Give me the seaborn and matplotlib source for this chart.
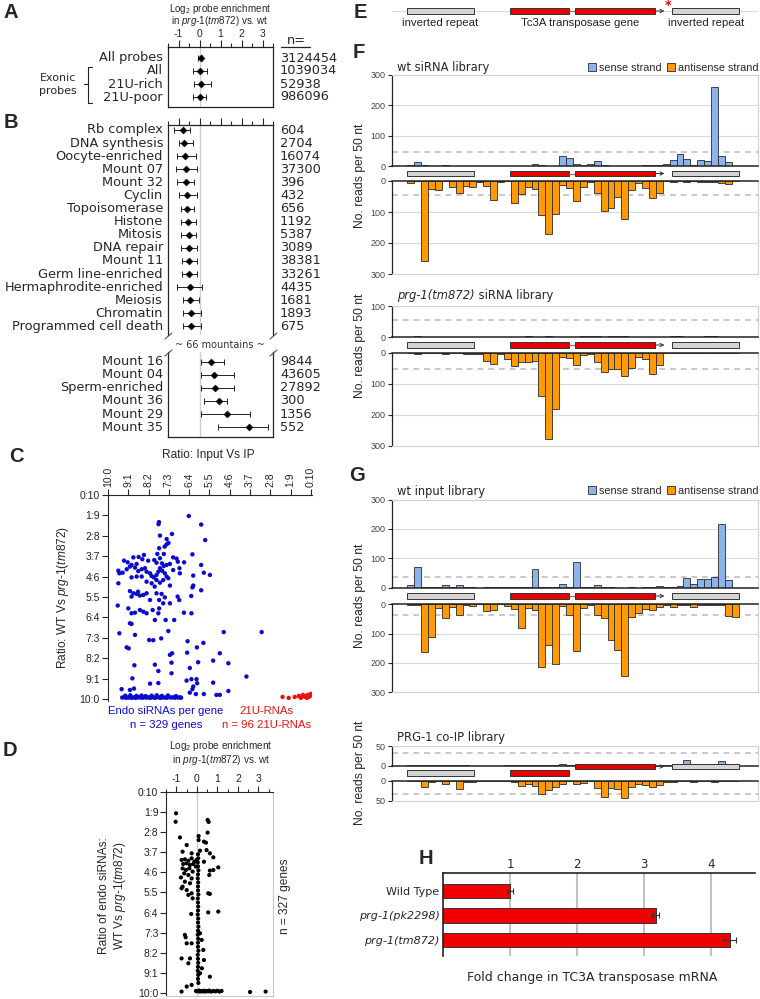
import numpy as np
import matplotlib
matplotlib.use("Agg")
import matplotlib.pyplot as plt
import seaborn as sns
from matplotlib.patches import Rectangle, Patch
from matplotlib.lines import Line2D
from matplotlib.ticker import MultipleLocator

sns.set_style("ticks")
plt.rcParams['font.family'] = ['DejaVu Sans']
plt.rcParams['mathtext.fontset'] = 'custom'
plt.rcParams['mathtext.rm'] = 'Liberation Sans'
plt.rcParams['mathtext.it'] = 'Liberation Sans:italic'
ARIAL = 'Liberation Sans'

# ---- A / B : log2 probe enrichment ----
a_labels = ["All probes", "All", "21U-rich", "21U-poor"]
a_mean = [0.05, 0.0, 0.05, 0.0]
a_lo = [-0.08, -0.33, -0.24, -0.33]
a_hi = [0.12, 0.38, 0.57, 0.33]
a_n = ["3124454", "1039034", "52938", "986096"]

b_labels = ["Rb complex", "DNA synthesis", "Oocyte-enriched", "Mount 07", "Mount 32",
            "Cyclin", "Topoisomerase", "Histone", "Mitosis", "DNA repair", "Mount 11",
            "Germ line-enriched", "Hermaphrodite-enriched", "Meiosis", "Chromatin",
            "Programmed cell death"]
b_mean = [-0.80, -0.74, -0.67, -0.63, -0.62, -0.59, -0.59, -0.56, -0.52, -0.51, -0.50,
          -0.48, -0.46, -0.43, -0.40, -0.40]
b_lo = [-1.20, -1.00, -1.06, -1.10, -1.06, -1.00, -0.86, -0.86, -0.86, -0.86, -0.83,
        -0.83, -1.06, -0.79, -0.78, -0.78]
b_hi = [-0.43, -0.33, -0.19, -0.10, -0.24, -0.14, -0.27, -0.19, -0.19, -0.11, -0.14,
        -0.14, 0.13, -0.03, 0.08, 0.08]
b_n = ["604", "2704", "16074", "37300", "396", "432", "656", "1192", "5387", "3089",
       "38381", "33261", "4435", "1681", "1893", "675"]

b2_labels = ["Mount 16", "Mount 04", "Sperm-enriched", "Mount 36", "Mount 29", "Mount 35"]
b2_mean = [0.57, 0.68, 0.73, 0.95, 1.29, 2.35]
b2_lo = [0.05, 0.05, 0.05, 0.21, 0.05, 0.87]
b2_hi = [1.19, 1.63, 1.63, 1.32, 2.40, 3.27]
b2_n = ["9844", "43605", "27892", "300", "1356", "552"]

# ---- C : ratio scatter (x: 0 = 10:0 ... 10 = 0:10, y: 0 = 0:10 ... 10 = 10:0) ----
c_endo_x = [3.98, 2.51, 2.49, 4.59, 2.56, 3.15, 4.79, 2.89, 2.98, 2.89, 2.79, 2.52, 2.43, 2.75,
            4.16, 1.77, 1.51, 1.25, 0.79, 0.97, 1.16, 1.41, 1.69, 1.98, 2.28, 2.39, 2.56, 2.66,
            2.75, 2.89, 3.05, 3.21, 3.38, 3.44, 3.75, 3.52, 3.21, 3.54, 4.59, 4.72, 5.02, 4.20,
            0.51, 0.56, 0.51, 0.72, 0.92, 1.08, 1.33, 1.49, 1.66, 1.82, 1.90, 2.07, 2.15, 2.26,
            2.39, 2.48, 2.56, 2.67, 2.80, 2.89, 2.39, 2.56, 2.72, 2.97, 2.15, 1.90, 1.66, 1.41,
            1.16, 4.20, 4.16, 3.05, 2.30, 1.08, 1.25, 1.41, 1.57, 1.74, 1.90, 1.16, 1.48, 2.39,
            2.64, 2.80, 3.43, 3.51, 4.10, 4.59, 2.52, 2.72, 2.07, 0.48, 1.00, 1.33, 1.57, 1.90,
            2.20, 2.52, 3.05, 1.16, 1.74, 2.48, 3.74, 4.11, 1.08, 1.16, 2.84, 2.31, 3.26, 0.56,
            1.33, 2.03, 2.23, 2.62, 2.97, 3.92, 4.38, 4.70, 5.70, 7.57,
            0.92, 1.02, 3.05, 3.16, 1.30, 2.31, 3.13, 3.90, 4.44, 5.18, 5.51, 5.93, 2.48, 3.13,
            4.03, 1.20, 6.82, 3.87, 4.11, 4.36, 4.39, 5.18, 4.20, 4.16, 0.67, 1.08, 1.28, 2.07,
            2.48, 4.03, 4.33, 4.72, 5.34, 5.51, 5.93,
            0.70, 0.80, 0.90, 1.00, 1.05, 1.15, 1.20, 1.30, 1.35, 1.45, 1.50, 1.60, 1.70, 1.80,
            1.90, 1.95, 2.05, 2.10, 2.20, 2.30, 2.35, 2.45, 2.55, 2.60, 2.70, 2.80, 2.90, 3.00,
            3.10, 3.20, 3.30, 3.45, 3.55, 3.60,
            0.85, 1.10, 1.40, 1.65, 1.85, 2.15, 2.40, 2.65, 2.95, 3.35]
c_endo_y = [1.03, 1.33, 1.43, 1.45, 1.99, 1.91, 2.21, 2.16, 2.35, 2.42, 2.53, 2.61, 2.89, 2.89,
            2.91, 2.94, 3.04, 3.06, 3.22, 3.30, 3.43, 3.38, 3.15, 3.22, 3.19, 3.32, 3.10, 3.35,
            3.48, 3.43, 3.38, 3.06, 3.12, 3.27, 3.30, 3.59, 3.68, 3.84, 3.43, 3.81, 3.92, 3.95,
            3.71, 3.84, 4.33, 3.81, 3.64, 3.51, 3.56, 3.73, 3.64, 3.59, 3.76, 3.84, 3.97, 4.04,
            3.92, 3.76, 3.59, 3.71, 3.84, 4.00, 4.17, 4.30, 4.17, 4.08, 4.33, 4.25, 4.00, 4.00,
            4.04, 4.44, 4.53, 4.44, 4.49, 4.71, 4.82, 4.85, 4.93, 4.90, 4.82, 4.98, 4.74, 4.82,
            4.85, 5.02, 4.98, 5.15, 4.95, 4.67, 5.15, 5.31, 5.15, 5.42, 5.56, 5.77, 5.64, 5.80,
            5.64, 5.56, 5.31, 5.80, 5.72, 5.80, 5.77, 5.80, 6.29, 6.32, 6.13, 6.13, 6.13, 6.78,
            6.86, 7.11, 7.12, 7.03, 6.67, 7.17, 7.47, 7.25, 6.72, 6.72,
            7.47, 7.52, 7.84, 7.76, 8.35, 8.32, 8.22, 7.73, 8.20, 8.12, 7.76, 8.25, 8.63, 8.74,
            8.48, 8.99, 8.90, 9.10, 9.03, 9.03, 9.23, 9.20, 9.39, 9.52, 9.52, 9.56, 9.49, 9.25,
            9.22, 9.69, 9.76, 9.76, 9.80, 9.80, 9.61,
            9.93, 9.92, 9.94, 9.93, 9.91, 9.94, 9.93, 9.92, 9.94, 9.93, 9.91, 9.93, 9.94, 9.92,
            9.93, 9.91, 9.94, 9.93, 9.92, 9.94, 9.93, 9.91, 9.93, 9.94, 9.92, 9.93, 9.94, 9.91,
            9.93, 9.92, 9.94, 9.93, 9.92, 9.94,
            9.84, 9.82, 9.85, 9.83, 9.86, 9.84, 9.82, 9.85, 9.83, 9.86]
c_21u_x = [8.60, 8.90, 9.20, 9.40, 9.50, 9.60, 9.70, 9.75, 9.80, 9.85, 9.90, 9.95, 10.0]
c_21u_y = [9.90, 9.95, 9.90, 9.85, 9.95, 9.80, 9.90, 9.85, 9.95, 9.80, 9.90, 9.85, 9.75]

# ---- D : log2 enrichment vs endo siRNA ratio ----
d_x = [-1.02, -1.04, -0.83, 0.52, 0.57, 0.52, 0.08, 0.08, 0.34, 0.44, -0.50, -0.70, -0.26,
       0.15, 0.47, 0.63, 0.80, 1.04, 0.80, 0.63, 0.60, 0.34,
       -0.75, -0.59, -0.42, -0.26, -0.13, -0.02, -0.67, -0.50, -0.34, -0.18, -0.70, -0.54,
       -0.37, -0.21, -0.05, -0.62, -0.42, -0.78, -0.26, -0.59, -0.34, -0.70, -0.50, -0.75,
       -0.26, -0.21, -0.42, 0.55, 0.63, -0.28, 0.55, 1.04, -0.59, -0.55, -0.50, -0.26, -0.75,
       -0.34, -0.42, 0.15, 0.23, 0.31, 0.34, 0.24, 0.15, 0.63, -0.75, -0.50, -0.26, 2.59, 3.35,
       0.05, 0.06, 0.04, 0.05, 0.07, 0.05, 0.04, 0.06, 0.05, 0.05, 0.07, 0.04, 0.05, 0.06,
       0.05, 0.04, 0.06, 0.05, 0.07, 0.05, 0.04, 0.06, 0.05, 0.05, 0.07, 0.04, 0.05, 0.06,
       0.05, 0.04, 0.06, 0.05, 0.07,
       -0.05, 0.02, 0.10, 0.15, 0.20, 0.28, 0.35, 0.40, 0.48, 0.55, 0.60, 0.70, 0.80, 0.90,
       1.00, 1.10, 1.20]
d_y = [1.06, 1.48, 2.26, 1.39, 1.49, 2.02, 2.19, 2.39, 2.47, 2.52, 2.64, 2.97, 3.05,
       2.92, 2.89, 3.05, 3.25, 3.75, 3.88, 3.91, 4.13, 3.47,
       3.38, 3.35, 3.42, 3.30, 3.47, 3.38, 3.58, 3.55, 3.63, 3.58, 3.80, 3.88,
       3.80, 3.96, 3.71, 4.05, 4.13, 4.25, 4.30, 4.46, 4.54, 4.71, 4.88, 4.79,
       5.04, 5.29, 5.12, 5.04, 5.07, 6.07, 5.99, 5.95, 7.11, 7.23, 7.53, 7.53, 8.28,
       8.28, 8.52, 7.03, 7.36, 7.86, 8.36, 8.77, 9.02, 9.19, 9.93, 9.68, 9.60, 9.95, 9.93,
       3.10, 3.30, 3.50, 3.70, 3.90, 4.10, 4.30, 4.50, 4.70, 4.90, 5.10, 5.30, 5.50, 5.70,
       5.90, 6.10, 6.30, 6.50, 6.70, 6.90, 7.10, 7.30, 7.50, 7.70, 7.90, 8.10, 8.30, 8.50,
       8.70, 8.90, 9.10, 9.30, 9.50,
       9.90, 9.92, 9.88, 9.93, 9.90, 9.92, 9.89, 9.93, 9.90, 9.92, 9.88, 9.93, 9.90, 9.92,
       9.89, 9.93, 9.90]

# ---- F / G : reads per 50 nt bin (48 bins along Tc3) ----
bins = list(range(48))
wt_sirna_sense = [4, 12, 2, 1, 0, 2, 1, 0, 1, 1, 1, 1, 1, 0, 1, 1, 0, 1, 5, 2,
                  1, 1, 33, 28, 5, 4, 8, 15, 2, 1, 1, 0, 1, 1, 3, 2, 3, 5, 20, 40,
                  22, 3, 20, 18, 262, 33, 12, 0]
wt_sirna_anti = [8, 1, 258, 25, 28, 1, 20, 38, 15, 20, 2, 15, 60, 2, 1, 72, 42, 20, 25, 110,
                 172, 105, 12, 22, 66, 18, 2, 38, 98, 88, 52, 122, 30, 8, 22, 55, 38, 1, 2, 1,
                 3, 1, 2, 3, 2, 5, 10, 0]
prg_sirna_sense = [1, 2, 1, 1, 0, 1, 0, 1, 1, 0, 0, 1, 1, 0, 1, 1, 1, 2, 1, 1,
                   2, 1, 1, 1, 1, 2, 4, 3, 1, 2, 3, 2, 1, 1, 1, 0, 1, 1, 2, 2,
                   1, 0, 1, 2, 2, 1, 0, 0]
prg_sirna_anti = [1, 2, 1, 0, 1, 2, 1, 1, 2, 4, 3, 25, 36, 2, 18, 43, 28, 30, 25, 140,
                  279, 181, 12, 15, 40, 8, 2, 28, 61, 52, 52, 75, 48, 12, 20, 68, 38, 0, 1, 0,
                  1, 0, 0, 1, 0, 0, 1, 0]
wt_input_sense = [8, 70, 2, 4, 1, 8, 3, 8, 3, 1, 0, 2, 1, 1, 1, 1, 1, 2, 62, 2,
                  2, 1, 12, 4, 88, 4, 4, 8, 2, 1, 0, 0, 1, 0, 2, 2, 6, 2, 2, 5,
                  33, 12, 30, 28, 35, 215, 27, 0]
wt_input_anti = [2, 3, 162, 113, 12, 48, 10, 35, 3, 5, 0, 22, 18, 0, 5, 15, 80, 12, 20, 215,
                 138, 205, 5, 35, 158, 12, 3, 35, 45, 120, 155, 246, 42, 30, 15, 18, 10, 2, 8, 2,
                 2, 10, 2, 3, 3, 3, 40, 42]
coip_sense = [1, 1, 1, 1, 1, 1, 2, 1, 1, 0, 0, 0, 0, 0, 1, 1, 1, 1, 1, 2,
              2, 2, 5, 1, 1, 1, 0, 0, 0, 0, 0, 0, 0, 0, 0, 0, 0, 1, 2, 1,
              14, 2, 2, 1, 1, 12, 1, 0]
coip_anti = [1, 1, 14, 2, 1, 8, 1, 20, 2, 2, 1, 1, 1, 1, 1, 3, 12, 8, 12, 32,
             22, 16, 8, 1, 7, 5, 1, 17, 40, 18, 20, 42, 14, 7, 10, 14, 10, 2, 2, 1,
             1, 2, 1, 1, 2, 1, 1, 1]

# ---- H : qPCR ----
h_labels = ["Wild Type", "prg-1(pk2298)", "prg-1(tm872)"]
h_vals = [1.0, 3.17, 4.27]
h_err = [0.04, 0.05, 0.09]

BLUE_S = '#8cb4ea'
ORANGE = '#ff9a05'
RED = '#e80000'
EDGE = '#2b2b2b'

W, H = 760, 999
fig = plt.figure(figsize=(W / 100, H / 100), dpi=100)


def add_ax(x0, y0, x1, y1):
    return fig.add_axes([x0 / W, 1 - y1 / H, (x1 - x0) / W, (y1 - y0) / H])


def T(x, y, s, **kw):
    kw.setdefault('ha', 'center')
    kw.setdefault('va', 'center')
    return fig.text(x / W, 1 - y / H, s, **kw)


def fig_line(x0, y0, x1, y1, **kw):
    fig.add_artist(Line2D([x0 / W, x1 / W], [1 - y0 / H, 1 - y1 / H], **kw))


def forest(ax, means, lo, hi):
    ys = np.arange(len(means))
    ax.errorbar(means, ys, xerr=[np.subtract(means, lo), np.subtract(hi, means)], fmt='none',
                ecolor='#222222', elinewidth=0.7, capsize=2.5, capthick=0.7, zorder=2)
    sns.scatterplot(x=means, y=ys, marker='D', color='black', s=13, edgecolor='black',
                    linewidth=0.3, ax=ax, zorder=3)
    ax.axvline(0, color='#cfcfcf', lw=1.0, zorder=0)
    ax.set_xlim(-1.5, 3.5)
    ax.set_yticks([])
    ax.xaxis.tick_top()
    ax.set_xticks([-1, 0, 1, 2, 3])
    ax.xaxis.set_minor_locator(MultipleLocator(0.5))
    ax.tick_params(axis='x', which='major', direction='out', length=5, width=0.8, pad=1.0,
                   labelsize=7.5, labelfontfamily=ARIAL)
    ax.tick_params(axis='x', which='minor', direction='out', length=3, width=0.8)
    for s in ax.spines.values():
        s.set_linewidth(0.9)
        s.set_color('#222222')


# Panel A
axA = add_ax(168, 47, 273, 107)
forest(axA, a_mean, a_lo, a_hi)
axA.set_ylim(3.77, -0.85)
axA.set_xticklabels(['-1', '0', '1', '2', '3'])
T(220, 8.5, r'Log$_2$ probe enrichment', fontsize=7.1, family=ARIAL)
T(220, 21.5, r'in $\it{prg}$-$\it{1(tm872)}$ vs. wt', fontsize=7.1, family=ARIAL)
for i, lab in enumerate(a_labels):
    T(163, 58 + 13 * i, lab, ha='right', fontsize=9.3)
    T(280, 58 + 13 * i, a_n[i], ha='left', fontsize=9.3)
T(296, 40, 'n=', fontsize=9.3)
fig_line(281, 47, 310, 47, color='#222222', lw=0.9)
T(58, 78, 'Exonic', fontsize=8)
T(58, 91, 'probes', fontsize=8)
fig_line(92, 67, 88, 67, color='#222222', lw=0.8)
fig_line(88, 67, 88, 103, color='#222222', lw=0.8)
fig_line(88, 103, 92, 103, color='#222222', lw=0.8)
fig_line(84, 84, 88, 84, color='#222222', lw=0.8)

# Panel B upper
axB = add_ax(168, 125, 273, 335)
forest(axB, b_mean, b_lo, b_hi)
axB.set_ylim(15.65, -0.38)
axB.set_xticklabels([])
axB.spines['bottom'].set_visible(False)
for i, lab in enumerate(b_labels):
    T(163, 130 + 13.1 * i, lab, ha='right', fontsize=9.3)
    T(280, 130 + 13.1 * i, b_n[i], ha='left', fontsize=9.3)

# Panel B lower
axB2 = add_ax(168, 352, 273, 437)
forest(axB2, b2_mean, b2_lo, b2_hi)
axB2.set_ylim(5.75, -0.74)
axB2.spines['top'].set_visible(False)
axB2.tick_params(axis='x', which='both', top=False, labeltop=False, bottom=False,
                 labelbottom=False)
for i, lab in enumerate(b2_labels):
    T(163, 361.7 + 13.1 * i, lab, ha='right', fontsize=9.3)
    T(280, 361.7 + 13.1 * i, b2_n[i], ha='left', fontsize=9.3)
T(220, 345, '~ 66 mountains ~', fontsize=7, color='#333333')
for xb in (165, 270):
    fig_line(xb, 339, xb + 7, 333, color='#555555', lw=0.8)
    fig_line(xb, 356, xb + 7, 350, color='#555555', lw=0.8)

# Panel C
axC = add_ax(108, 495, 312, 701)
sns.scatterplot(x=c_endo_x, y=c_endo_y, color='#0b0bd0', s=10, edgecolor='none', ax=axC)
sns.scatterplot(x=c_21u_x, y=c_21u_y, color='#ee1111', s=10, edgecolor='none', ax=axC)
axC.set_xlim(0, 10.05)
axC.set_ylim(10.1, 0)
axC.xaxis.tick_top()
axC.set_xticks(range(11))
axC.set_xticklabels([f"{10 - k}:{k}" for k in range(11)], rotation=90)
axC.set_yticks(range(11))
axC.set_yticklabels([f"{k}:{10 - k}" for k in range(11)])
axC.tick_params(direction='out', length=4, width=0.8, labelsize=7.5, pad=2,
                labelfontfamily=ARIAL, labelcolor='#222222')
axC.spines['right'].set_visible(False)
axC.spines['bottom'].set_visible(False)
axC.set_xlabel('')
axC.set_ylabel('')
T(208, 455, 'Ratio: Input Vs IP', fontsize=8.6, family=ARIAL)
T(63, 598, r'Ratio: WT Vs $\it{prg}$-$\it{1(tm872)}$', rotation=90, fontsize=8.6, family=ARIAL)
T(166, 711, 'Endo siRNAs per gene', fontsize=8.2, family=ARIAL, color='#0b0bd0')
T(166, 725, 'n = 329 genes', fontsize=8.2, family=ARIAL, color='#0b0bd0')
T(266, 711, '21U-RNAs', fontsize=8.2, family=ARIAL, color='#ee1111')
T(267, 725, 'n = 96 21U-RNAs', fontsize=8.2, family=ARIAL, color='#ee1111')

# Panel D
axD = add_ax(166, 792, 273, 996)
axD.axvline(0, color='#cfcfcf', lw=1.0, zorder=0)
sns.scatterplot(x=d_x, y=d_y, color='black', s=9, edgecolor='none', ax=axD, zorder=3)
axD.set_xlim(-1.51, 3.71)
axD.set_ylim(10.15, 0)
axD.xaxis.tick_top()
axD.set_xticks([-1, 0, 1, 2, 3])
axD.set_xticklabels(['-1', '0', '1', '2', '3'])
axD.xaxis.set_minor_locator(MultipleLocator(0.5))
axD.set_yticks(range(11))
axD.set_yticklabels([f"{k}:{10 - k}" for k in range(11)])
axD.tick_params(which='major', direction='out', length=4, width=0.8, labelsize=7.5, pad=1.5,
                labelfontfamily=ARIAL, labelcolor='#222222')
axD.tick_params(axis='x', which='minor', direction='out', length=2.5, width=0.8)
axD.spines['right'].set_color('#c8c8c8')
axD.spines['bottom'].set_color('#c8c8c8')
axD.set_xlabel('')
axD.set_ylabel('')
T(221, 746, r'Log$_2$ probe enrichment', fontsize=7.2, family=ARIAL)
T(221, 760, r'in $\it{prg}$-$\it{1(tm872)}$ vs. wt', fontsize=7.2, family=ARIAL)
T(104, 896, 'Ratio of endo siRNAs:', rotation=90, fontsize=8.6, family=ARIAL)
T(120, 896, r'WT Vs $\it{prg}$-$\it{1(tm872)}$', rotation=90, fontsize=8.6, family=ARIAL)
T(285, 896, 'n = 327 genes', rotation=90, fontsize=8.6, family=ARIAL)

# ---- F / G tracks ----
XL = (-2.72, 50.3)


def track(y0, y1, vals, color, ymax, yticks, invert, dash):
    ax = add_ax(392, y0, 758, y1)
    for g in yticks[1:-1]:
        ax.axhline(g, color='#dadada', lw=0.8, zorder=0)
    ax.axhline(dash, color='#c9c9c9', lw=1.4, ls=(0, (3, 2.5)), zorder=1)
    sns.barplot(x=bins, y=vals, color=color, edgecolor=EDGE, linewidth=0.6, width=1.0,
                saturation=1, errorbar=None, ax=ax, zorder=2)
    ax.set_xlim(*XL)
    ax.set_ylim((ymax, 0) if invert else (0, ymax))
    ax.set_xticks([])
    ax.set_xlabel('')
    ax.set_ylabel('')
    ax.set_yticks(yticks)
    ax.tick_params(axis='y', direction='out', length=3, width=0.8, pad=1.5, labelsize=6.5,
                   labelfontfamily=ARIAL, labelcolor='#444444')
    ax.spines['left'].set_color('#222222')
    ax.spines['left'].set_linewidth(0.9)
    zero, far = ('top', 'bottom') if invert else ('bottom', 'top')
    ax.spines[zero].set_color('#222222')
    ax.spines[zero].set_linewidth(1.1)
    ax.spines[far].set_color('#d0d0d0')
    ax.spines['right'].set_color('#d0d0d0')
    return ax


def strip(yc, shift=0.0, full_line=False):
    ax = add_ax(392, yc - 10, 758, yc + 10)
    ax.set_xlim(*XL)
    ax.set_ylim(10, -10)
    ax.axis('off')
    if full_line:
        ax.axhline(0, color='#dddddd', lw=0.8, zorder=0)
    h = 5.6
    ax.add_patch(Rectangle((-0.55, -h / 2), 9.78, h, fc='#d4d4d4', ec='#333333', lw=0.7))
    ax.add_patch(Rectangle((14.4, -h / 2), 8.47, h, fc=RED, ec='#333333', lw=0.7))
    if shift == 0:
        ax.plot([22.87, 23.8], [0, 0], color='#777777', lw=0.8)
    ax.add_patch(Rectangle((23.8, shift - h / 2), 11.55, h, fc=RED, ec='#333333', lw=0.7,
                           zorder=3))
    ax.annotate('', xy=(36.75, shift), xytext=(35.35, shift),
                arrowprops=dict(arrowstyle='->', lw=0.7, color='#333333', shrinkA=0,
                                shrinkB=0, mutation_scale=6))
    ax.add_patch(Rectangle((37.77, shift - h / 2), 9.73, h, fc='#d4d4d4', ec='#333333',
                           lw=0.7, zorder=3))
    return ax


def legend_at(y):
    fig.legend(handles=[Patch(facecolor=BLUE_S, edgecolor=EDGE, lw=0.6, label='sense strand'),
                        Patch(facecolor=ORANGE, edgecolor=EDGE, lw=0.6,
                              label='antisense strand')],
               loc='center right', bbox_to_anchor=(758 / W, 1 - y / H), ncol=2, frameon=False,
               prop={'family': ARIAL, 'size': 7.8}, handlelength=0.75, handleheight=0.75,
               handletextpad=0.25, columnspacing=0.5, borderaxespad=0, borderpad=0)


def ylab(yc):
    T(360, yc, 'No. reads per 50 nt', rotation=90, fontsize=8.7, family=ARIAL)


# E
strip(11, full_line=True)
T(440, 22.5, 'inverted repeat', fontsize=8.2, family=ARIAL, color='#222222')
T(580, 22.5, 'Tc3A transposase gene', fontsize=8.2, family=ARIAL, color='#222222')
T(706, 22.5, 'inverted repeat', fontsize=8.2, family=ARIAL, color='#222222')
T(668, 6, '*', fontsize=9, color=RED, fontweight='bold')

# F wt siRNA
track(75, 166, wt_sirna_sense, BLUE_S, 300, [0, 100, 200, 300], False, 46)
strip(173.5)
track(181, 274, wt_sirna_anti, ORANGE, 300, [0, 100, 200, 300], True, 45)
T(397, 68, 'wt siRNA library', ha='left', fontsize=8.3)
legend_at(68)
ylab(176)

# F prg-1 siRNA
track(306, 337, prg_sirna_sense, BLUE_S, 100, [0, 100], False, 55)
strip(345)
track(353, 446, prg_sirna_anti, ORANGE, 300, [0, 100, 200, 300], True, 52)
rend = fig.canvas.get_renderer()
t1 = T(397, 296, 'prg-1(tm872)', ha='left', fontsize=8.3, style='italic')
w1 = t1.get_window_extent(rend).width
T(397 + w1, 296, ' siRNA library', ha='left', fontsize=8.3)
ylab(346)

# G wt input
track(499.5, 587.7, wt_input_sense, BLUE_S, 300, [0, 100, 200, 300], False, 35)
strip(596)
track(604.3, 692.3, wt_input_anti, ORANGE, 300, [0, 100, 200, 300], True, 38)
T(397, 491, 'wt input library', ha='left', fontsize=8.3)
legend_at(491)
ylab(596)

# G PRG-1 co-IP
track(746, 765.7, coip_sense, BLUE_S, 50, [0, 50], False, 31)
strip(773, shift=-6.5)
track(781, 800.7, coip_anti, ORANGE, 50, [0, 50], True, 32)
T(397, 737, 'PRG-1 co-IP library', ha='left', fontsize=8.3)
ylab(773)

# ---- H ----
axH = add_ax(443, 873, 755, 956)
for v in [1, 2, 3, 4]:
    axH.axvline(v, color='#c2c2c2', lw=1.5, zorder=0)
sns.barplot(x=h_vals, y=h_labels, orient='h', color='#f00000', edgecolor='#333333',
            linewidth=0.7, width=0.58, saturation=1, errorbar=None, ax=axH, zorder=2)
axH.errorbar(h_vals, range(3), xerr=h_err, fmt='none', ecolor='#333333', elinewidth=0.8,
             capsize=2.5, capthick=0.8, zorder=3)
axH.set_xlim(0, 4.65)
axH.set_ylim(2.65, -0.72)
axH.xaxis.tick_top()
axH.set_xticks([1, 2, 3, 4])
axH.tick_params(axis='x', length=0, pad=1.5, labelsize=8.5)
axH.tick_params(axis='y', length=0, pad=2.5, labelsize=8)
for lbl in axH.get_yticklabels():
    if lbl.get_text().startswith('prg'):
        lbl.set_fontstyle('italic')
axH.spines['right'].set_visible(False)
axH.spines['bottom'].set_visible(False)
axH.spines['top'].set_linewidth(1.2)
axH.spines['left'].set_linewidth(1.2)
axH.spines['top'].set_color('#222222')
axH.spines['left'].set_color('#222222')
axH.set_xlabel('')
axH.set_ylabel('')
T(592, 978, 'Fold change in TC3A transposase mRNA', fontsize=9)

# panel letters
for lt, x, y in [('A', 11, 13), ('B', 11, 122), ('C', 16, 457), ('D', 10, 751),
                 ('E', 360, 12), ('F', 359, 52), ('G', 357, 476), ('H', 426, 859)]:
    T(x, y, lt, fontsize=14.5, fontweight='bold', family=ARIAL)

fig.savefig('out.png', dpi=100)
